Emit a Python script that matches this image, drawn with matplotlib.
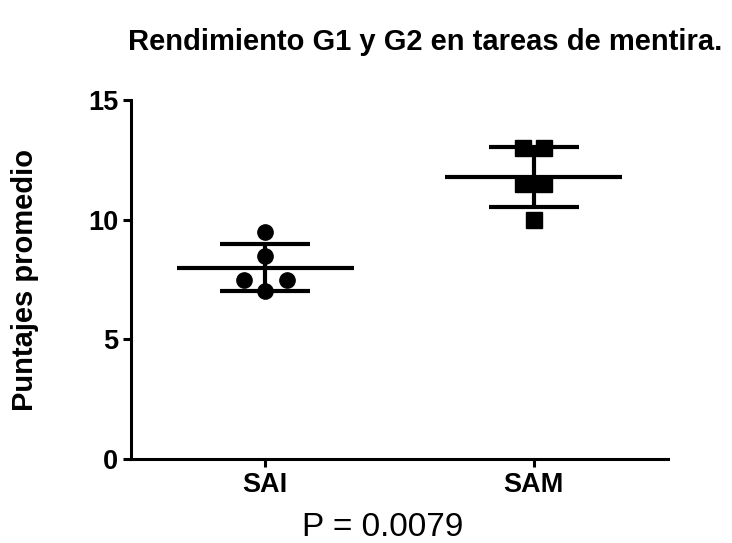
import numpy as np
import matplotlib
matplotlib.use("Agg")
import matplotlib.pyplot as plt

plt.rcParams['font.family'] = ['Liberation Sans', 'DejaVu Sans']

# Scores per group
groups = ["SAI", "SAM"]
sai_scores = [9.5, 8.5, 7.5, 7.5, 7.0]
sam_scores = [13.0, 13.0, 11.5, 11.5, 10.0]
# horizontal spread of points sharing a value
sai_offsets = [0.0, 0.0, -0.08, 0.08, 0.0]
sam_offsets = [-0.04, 0.04, -0.04, 0.04, 0.0]
markers = ["o", "s"]
y_ticks = [0, 5, 10, 15]
p_text = "P = 0.0079"
title = "Rendimiento G1 y G2 en tareas de mentira."
ylabel = "Puntajes promedio"

fig = plt.figure(figsize=(7.32, 5.43), dpi=100)
ax = fig.add_axes([131/732, 1-459/543, (668-131)/732, (459-100)/543])

lw = 3.0
for i, (scores, offs, mk) in enumerate(zip([sai_scores, sam_scores],
                                            [sai_offsets, sam_offsets], markers)):
    s = np.array(scores)
    m = s.mean()
    sd = s.std(ddof=1)
    ax.plot(i + np.array(offs), s, linestyle="none", marker=mk, color="black",
            markersize=11, zorder=3, clip_on=False)
    ax.hlines(m, i - 0.33, i + 0.33, color="black", lw=lw, zorder=2)
    ax.hlines([m - sd, m + sd], i - 0.167, i + 0.167, color="black", lw=lw, zorder=2)
    ax.vlines(i, m - sd, m + sd, color="black", lw=lw, zorder=2)

ax.set_xlim(-0.5, 1.5)
ax.set_ylim(0, 15)
ax.set_yticks(y_ticks)
ax.set_xticks(range(len(groups)))
ax.set_xticklabels(groups)
for sp in ["top", "right"]:
    ax.spines[sp].set_visible(False)
for sp in ["left", "bottom"]:
    ax.spines[sp].set_linewidth(2.2)
ax.tick_params(axis="both", width=2.2, length=6, labelsize=19.5, pad=3)
for lab in ax.get_xticklabels() + ax.get_yticklabels():
    lab.set_fontweight("bold")

fig.text(25/732, 1-280/543, ylabel, rotation=90, ha="center", va="center",
         fontsize=21, fontweight="bold")
fig.text(425/732, 1-42/543, title, ha="center", va="center",
         fontsize=21, fontweight="bold")
fig.text(383/732, 1-527/543, p_text, ha="center", va="center", fontsize=24)

fig.savefig("out.png", dpi=100)
